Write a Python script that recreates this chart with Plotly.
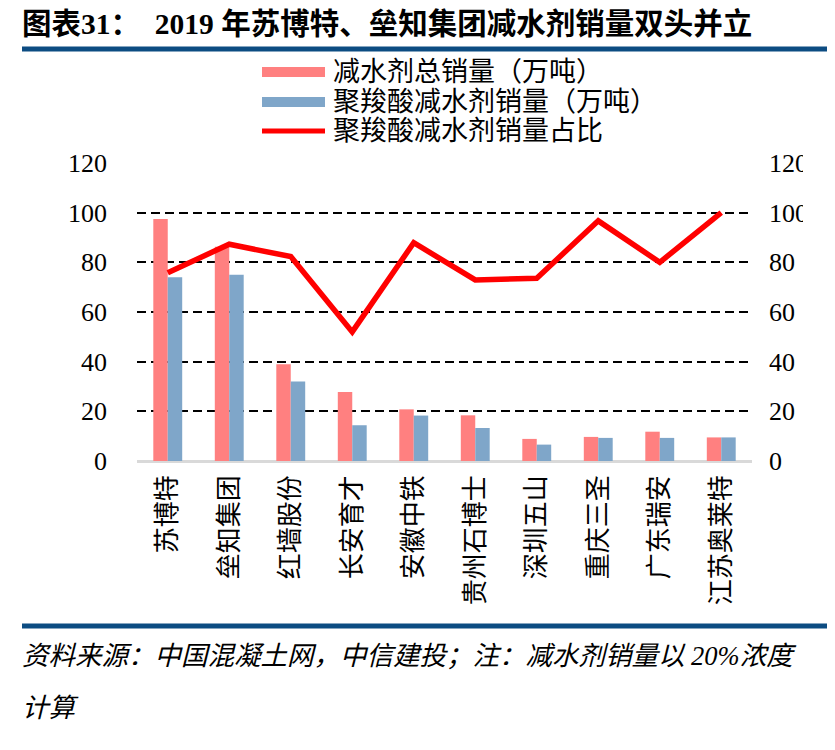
import plotly.graph_objects as go

# data
companies = ["苏博特", "垒知集团", "红墙股份", "长安育才", "安徽中铁",
             "贵州石博士", "深圳五山", "重庆三圣", "广东瑞安", "江苏奥莱特"]
total_sales = [97.5, 86.3, 39.0, 27.8, 20.8, 18.4, 8.9, 9.7, 11.8, 9.5]
pce_sales = [74.0, 75.0, 32.0, 14.4, 18.3, 13.3, 6.6, 9.3, 9.3, 9.5]
pce_share = [75.8, 87.3, 82.3, 52.0, 87.9, 72.9, 73.6, 96.7, 80.0, 100.0]

name_total = "减水剂总销量（万吨）"
name_pce = "聚羧酸减水剂销量（万吨）"
name_share = "聚羧酸减水剂销量占比"

PINK = "#FF8080"
BLUE = "#7FA6C9"
RED = "#FF0000"
NAVY = "#0C4C82"
FONT = "Liberation Serif, Noto Sans CJK SC"

# page has an 8px body margin, so work in screen pixels and shift
OFF = 8
W, H = 835 - OFF, 750 - OFF
L, R, T, B = 137 - OFF, 752 - OFF, 163 - OFF, 461 - OFF


def px_x(x):
    return (x - OFF - L) / (R - L)


def px_y(y):
    return (B - (y - OFF)) / (B - T)


fig = go.Figure()
fig.add_trace(go.Bar(x=companies, y=total_sales, name=name_total,
                     marker=dict(color=PINK, line=dict(width=0))))
fig.add_trace(go.Bar(x=companies, y=pce_sales, name=name_pce,
                     marker=dict(color=BLUE, line=dict(width=0))))
fig.add_trace(go.Scatter(x=companies, y=pce_share, name=name_share, yaxis="y2",
                         mode="lines", line=dict(color=RED, width=5.5)))

fig.update_layout(
    width=W, height=H,
    margin=dict(l=L, r=W - R, t=T, b=H - B, pad=0),
    paper_bgcolor="white", plot_bgcolor="white",
    barmode="group", bargap=0.53, bargroupgap=0,
    font=dict(family=FONT, size=24, color="black"),
    showlegend=False,
    xaxis=dict(tickangle=-90, tickfont=dict(family="Noto Sans CJK SC", size=26),
               ticklabelstandoff=8, showgrid=False, showline=False, zeroline=False),
    yaxis=dict(range=[0, 120], tickvals=list(range(0, 121, 20)),
               tickfont=dict(family="Liberation Serif", size=26),
               ticklabelstandoff=29,
               showgrid=True, gridcolor="black", griddash="9px,5px", gridwidth=2.2,
               zeroline=True, zerolinecolor="#D9D9D9", zerolinewidth=3,
               showline=False),
    yaxis2=dict(range=[0, 120], tickvals=list(range(0, 121, 20)), ticksuffix="%",
                overlaying="y", side="right",
                tickfont=dict(family="Liberation Serif", size=26),
                ticklabelstandoff=16, showgrid=False, zeroline=False, showline=False),
)

# legend drawn by hand to get the wide swatches and tight rows
legend_rows = [(name_total, PINK, "bar", 72), (name_pce, BLUE, "bar", 102),
               (name_share, RED, "line", 131)]
for nm, col, kind, yc in legend_rows:
    if kind == "bar":
        fig.add_shape(type="rect", xref="paper", yref="paper",
                      x0=px_x(262), x1=px_x(325), y0=px_y(yc - 5), y1=px_y(yc + 5),
                      fillcolor=col, line=dict(width=0))
    else:
        fig.add_shape(type="line", xref="paper", yref="paper",
                      x0=px_x(262), x1=px_x(325), y0=px_y(yc), y1=px_y(yc),
                      line=dict(color=col, width=5))
    fig.add_annotation(text=nm, xref="paper", yref="paper", x=px_x(331), y=px_y(yc),
                       xanchor="left", yanchor="middle", showarrow=False,
                       font=dict(family=FONT, size=27, color="black"))

# title, rules and source note
fig.add_annotation(text="<b>图表31：  2019 年苏博特、垒知集团减水剂销量双头并立</b>",
                   xref="paper", yref="paper", x=px_x(20), y=px_y(24),
                   xanchor="left", yanchor="middle", showarrow=False,
                   font=dict(family=FONT, size=29.5, color="black"))
for yr in (49, 626):
    fig.add_shape(type="line", xref="paper", yref="paper",
                  x0=px_x(22), x1=px_x(845), y0=px_y(yr), y1=px_y(yr),
                  line=dict(color=NAVY, width=5))
fig.add_annotation(text="<i>资料来源：中国混凝土网，中信建投；注：减水剂销量以 20%浓度</i>",
                   xref="paper", yref="paper", x=px_x(20), y=px_y(656),
                   xanchor="left", yanchor="middle", showarrow=False,
                   font=dict(family=FONT, size=26.5, color="black"))
fig.add_annotation(text="<i>计算</i>",
                   xref="paper", yref="paper", x=px_x(20), y=px_y(708),
                   xanchor="left", yanchor="middle", showarrow=False,
                   font=dict(family=FONT, size=26.5, color="black"))

# the source image is cropped just after the right-hand tick labels
fig.add_shape(type="rect", xref="paper", yref="paper", layer="above",
              x0=px_x(803), x1=px_x(850), y0=px_y(140), y1=px_y(485),
              fillcolor="white", line=dict(width=0))

fig.write_html("out.html")
